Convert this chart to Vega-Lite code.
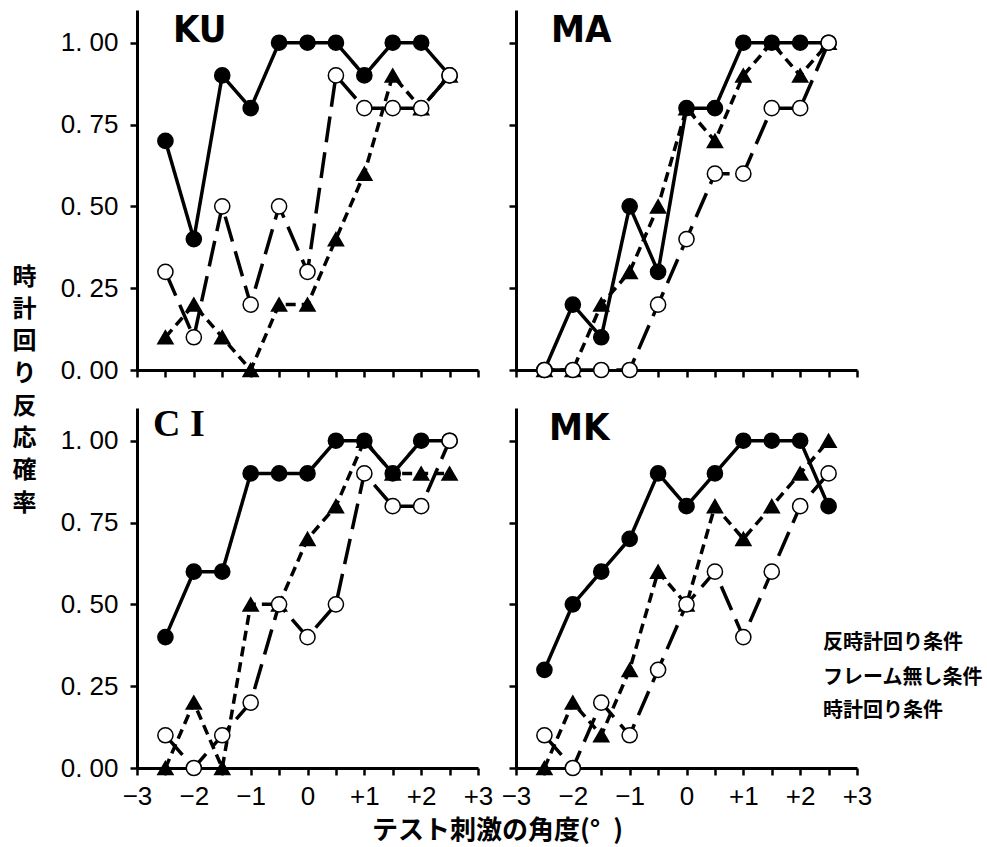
{
  "$schema": "https://vega.github.io/schema/vega-lite/v6.json",
  "autosize": {"type": "pad"},
  "padding": {"left": 12, "top": 10, "right": 5, "bottom": 2},
  "background": "white",
  "bounds": "flush",
  "spacing": 38,
  "columns": 2,
  "config": {
    "view": {"stroke": null},
    "axis": {"domainColor": "black", "domainWidth": 3, "tickColor": "black", "tickWidth": 2.5, "tickSize": 7, "grid": false, "labelColor": "black", "labelFont": "Liberation Sans", "labelFontSize": 26, "titleColor": "black"},
    "title": {"color": "black", "anchor": "start", "frame": "group"}
  },
  "data": {"values": [
    {"s":"KU","cond":"反時計回り条件","a":-2.5,"p":0.7},{"s":"KU","cond":"反時計回り条件","a":-2,"p":0.4},{"s":"KU","cond":"反時計回り条件","a":-1.5,"p":0.9},{"s":"KU","cond":"反時計回り条件","a":-1,"p":0.8},{"s":"KU","cond":"反時計回り条件","a":-0.5,"p":1},{"s":"KU","cond":"反時計回り条件","a":0,"p":1},{"s":"KU","cond":"反時計回り条件","a":0.5,"p":1},{"s":"KU","cond":"反時計回り条件","a":1,"p":0.9},{"s":"KU","cond":"反時計回り条件","a":1.5,"p":1},{"s":"KU","cond":"反時計回り条件","a":2,"p":1},{"s":"KU","cond":"反時計回り条件","a":2.5,"p":0.9},
    {"s":"KU","cond":"フレーム無し条件","a":-2.5,"p":0.1},{"s":"KU","cond":"フレーム無し条件","a":-2,"p":0.2},{"s":"KU","cond":"フレーム無し条件","a":-1.5,"p":0.1},{"s":"KU","cond":"フレーム無し条件","a":-1,"p":0},{"s":"KU","cond":"フレーム無し条件","a":-0.5,"p":0.2},{"s":"KU","cond":"フレーム無し条件","a":0,"p":0.2},{"s":"KU","cond":"フレーム無し条件","a":0.5,"p":0.4},{"s":"KU","cond":"フレーム無し条件","a":1,"p":0.6},{"s":"KU","cond":"フレーム無し条件","a":1.5,"p":0.9},{"s":"KU","cond":"フレーム無し条件","a":2,"p":0.8},{"s":"KU","cond":"フレーム無し条件","a":2.5,"p":0.9},
    {"s":"KU","cond":"時計回り条件","a":-2.5,"p":0.3},{"s":"KU","cond":"時計回り条件","a":-2,"p":0.1},{"s":"KU","cond":"時計回り条件","a":-1.5,"p":0.5},{"s":"KU","cond":"時計回り条件","a":-1,"p":0.2},{"s":"KU","cond":"時計回り条件","a":-0.5,"p":0.5},{"s":"KU","cond":"時計回り条件","a":0,"p":0.3},{"s":"KU","cond":"時計回り条件","a":0.5,"p":0.9},{"s":"KU","cond":"時計回り条件","a":1,"p":0.8},{"s":"KU","cond":"時計回り条件","a":1.5,"p":0.8},{"s":"KU","cond":"時計回り条件","a":2,"p":0.8},{"s":"KU","cond":"時計回り条件","a":2.5,"p":0.9},
    {"s":"MA","cond":"反時計回り条件","a":-2.5,"p":0},{"s":"MA","cond":"反時計回り条件","a":-2,"p":0.2},{"s":"MA","cond":"反時計回り条件","a":-1.5,"p":0.1},{"s":"MA","cond":"反時計回り条件","a":-1,"p":0.5},{"s":"MA","cond":"反時計回り条件","a":-0.5,"p":0.3},{"s":"MA","cond":"反時計回り条件","a":0,"p":0.8},{"s":"MA","cond":"反時計回り条件","a":0.5,"p":0.8},{"s":"MA","cond":"反時計回り条件","a":1,"p":1},{"s":"MA","cond":"反時計回り条件","a":1.5,"p":1},{"s":"MA","cond":"反時計回り条件","a":2,"p":1},{"s":"MA","cond":"反時計回り条件","a":2.5,"p":1},
    {"s":"MA","cond":"フレーム無し条件","a":-2.5,"p":0},{"s":"MA","cond":"フレーム無し条件","a":-2,"p":0},{"s":"MA","cond":"フレーム無し条件","a":-1.5,"p":0.2},{"s":"MA","cond":"フレーム無し条件","a":-1,"p":0.3},{"s":"MA","cond":"フレーム無し条件","a":-0.5,"p":0.5},{"s":"MA","cond":"フレーム無し条件","a":0,"p":0.8},{"s":"MA","cond":"フレーム無し条件","a":0.5,"p":0.7},{"s":"MA","cond":"フレーム無し条件","a":1,"p":0.9},{"s":"MA","cond":"フレーム無し条件","a":1.5,"p":1},{"s":"MA","cond":"フレーム無し条件","a":2,"p":0.9},{"s":"MA","cond":"フレーム無し条件","a":2.5,"p":1},
    {"s":"MA","cond":"時計回り条件","a":-2.5,"p":0},{"s":"MA","cond":"時計回り条件","a":-2,"p":0},{"s":"MA","cond":"時計回り条件","a":-1.5,"p":0},{"s":"MA","cond":"時計回り条件","a":-1,"p":0},{"s":"MA","cond":"時計回り条件","a":-0.5,"p":0.2},{"s":"MA","cond":"時計回り条件","a":0,"p":0.4},{"s":"MA","cond":"時計回り条件","a":0.5,"p":0.6},{"s":"MA","cond":"時計回り条件","a":1,"p":0.6},{"s":"MA","cond":"時計回り条件","a":1.5,"p":0.8},{"s":"MA","cond":"時計回り条件","a":2,"p":0.8},{"s":"MA","cond":"時計回り条件","a":2.5,"p":1},
    {"s":"CI","cond":"反時計回り条件","a":-2.5,"p":0.4},{"s":"CI","cond":"反時計回り条件","a":-2,"p":0.6},{"s":"CI","cond":"反時計回り条件","a":-1.5,"p":0.6},{"s":"CI","cond":"反時計回り条件","a":-1,"p":0.9},{"s":"CI","cond":"反時計回り条件","a":-0.5,"p":0.9},{"s":"CI","cond":"反時計回り条件","a":0,"p":0.9},{"s":"CI","cond":"反時計回り条件","a":0.5,"p":1},{"s":"CI","cond":"反時計回り条件","a":1,"p":1},{"s":"CI","cond":"反時計回り条件","a":1.5,"p":0.9},{"s":"CI","cond":"反時計回り条件","a":2,"p":1},{"s":"CI","cond":"反時計回り条件","a":2.5,"p":1},
    {"s":"CI","cond":"フレーム無し条件","a":-2.5,"p":0},{"s":"CI","cond":"フレーム無し条件","a":-2,"p":0.2},{"s":"CI","cond":"フレーム無し条件","a":-1.5,"p":0},{"s":"CI","cond":"フレーム無し条件","a":-1,"p":0.5},{"s":"CI","cond":"フレーム無し条件","a":-0.5,"p":0.5},{"s":"CI","cond":"フレーム無し条件","a":0,"p":0.7},{"s":"CI","cond":"フレーム無し条件","a":0.5,"p":0.8},{"s":"CI","cond":"フレーム無し条件","a":1,"p":1},{"s":"CI","cond":"フレーム無し条件","a":1.5,"p":0.9},{"s":"CI","cond":"フレーム無し条件","a":2,"p":0.9},{"s":"CI","cond":"フレーム無し条件","a":2.5,"p":0.9},
    {"s":"CI","cond":"時計回り条件","a":-2.5,"p":0.1},{"s":"CI","cond":"時計回り条件","a":-2,"p":0},{"s":"CI","cond":"時計回り条件","a":-1.5,"p":0.1},{"s":"CI","cond":"時計回り条件","a":-1,"p":0.2},{"s":"CI","cond":"時計回り条件","a":-0.5,"p":0.5},{"s":"CI","cond":"時計回り条件","a":0,"p":0.4},{"s":"CI","cond":"時計回り条件","a":0.5,"p":0.5},{"s":"CI","cond":"時計回り条件","a":1,"p":0.9},{"s":"CI","cond":"時計回り条件","a":1.5,"p":0.8},{"s":"CI","cond":"時計回り条件","a":2,"p":0.8},{"s":"CI","cond":"時計回り条件","a":2.5,"p":1},
    {"s":"MK","cond":"反時計回り条件","a":-2.5,"p":0.3},{"s":"MK","cond":"反時計回り条件","a":-2,"p":0.5},{"s":"MK","cond":"反時計回り条件","a":-1.5,"p":0.6},{"s":"MK","cond":"反時計回り条件","a":-1,"p":0.7},{"s":"MK","cond":"反時計回り条件","a":-0.5,"p":0.9},{"s":"MK","cond":"反時計回り条件","a":0,"p":0.8},{"s":"MK","cond":"反時計回り条件","a":0.5,"p":0.9},{"s":"MK","cond":"反時計回り条件","a":1,"p":1},{"s":"MK","cond":"反時計回り条件","a":1.5,"p":1},{"s":"MK","cond":"反時計回り条件","a":2,"p":1},{"s":"MK","cond":"反時計回り条件","a":2.5,"p":0.8},
    {"s":"MK","cond":"フレーム無し条件","a":-2.5,"p":0},{"s":"MK","cond":"フレーム無し条件","a":-2,"p":0.2},{"s":"MK","cond":"フレーム無し条件","a":-1.5,"p":0.1},{"s":"MK","cond":"フレーム無し条件","a":-1,"p":0.3},{"s":"MK","cond":"フレーム無し条件","a":-0.5,"p":0.6},{"s":"MK","cond":"フレーム無し条件","a":0,"p":0.5},{"s":"MK","cond":"フレーム無し条件","a":0.5,"p":0.8},{"s":"MK","cond":"フレーム無し条件","a":1,"p":0.7},{"s":"MK","cond":"フレーム無し条件","a":1.5,"p":0.8},{"s":"MK","cond":"フレーム無し条件","a":2,"p":0.9},{"s":"MK","cond":"フレーム無し条件","a":2.5,"p":1},
    {"s":"MK","cond":"時計回り条件","a":-2.5,"p":0.1},{"s":"MK","cond":"時計回り条件","a":-2,"p":0},{"s":"MK","cond":"時計回り条件","a":-1.5,"p":0.2},{"s":"MK","cond":"時計回り条件","a":-1,"p":0.1},{"s":"MK","cond":"時計回り条件","a":-0.5,"p":0.3},{"s":"MK","cond":"時計回り条件","a":0,"p":0.5},{"s":"MK","cond":"時計回り条件","a":0.5,"p":0.6},{"s":"MK","cond":"時計回り条件","a":1,"p":0.4},{"s":"MK","cond":"時計回り条件","a":1.5,"p":0.6},{"s":"MK","cond":"時計回り条件","a":2,"p":0.8},{"s":"MK","cond":"時計回り条件","a":2.5,"p":0.9}
  ]},
  "resolve": {"scale": {"shape": "independent"}, "legend": {"shape": "independent"}},
  "concat": [
    {
      "width": 341, "height": 360,
      "title": {"text": "KU", "offset": -40, "dx": 36, "font": "Liberation Sans Narrow, DejaVu Sans Condensed, Liberation Sans", "fontSize": 38, "fontWeight": "bold"},
      "transform": [{"filter": "datum.s === 'KU'"}],
      "encoding": {
        "x": {"field": "a", "type": "quantitative", "scale": {"domain": [-3, 3], "nice": false}, "axis": {"values": [-3,-2.5,-2,-1.5,-1,-0.5,0,0.5,1,1.5,2,2.5,3], "labels": false, "title": null}},
        "y": {"field": "p", "type": "quantitative", "scale": {"domain": [0, 1.1], "nice": false}, "axis": {"values": [0,0.25,0.5,0.75,1], "labelExpr": "replace(format(datum.value,'.2f'),'.','. ')", "labelPadding": 12,
          "title": ["時","計","回","り","反","応","確","率"], "titleAngle": 0, "titleX": -113, "titleY": 267, "titleAlign": "center", "titleBaseline": "middle", "titleFont": "Noto Sans CJK JP", "titleFontSize": 24, "titleFontWeight": "bold", "titleLineHeight": 32.3}}
      },
      "layer": [
        {"mark": {"type": "line", "color": "black", "strokeWidth": 3.5}, "encoding": {"detail": {"field": "cond"}, "strokeDash": {"condition": [{"test": "datum.cond === 'フレーム無し条件'", "value": [10, 6]}, {"test": "datum.cond === '時計回り条件'", "value": [26, 10]}], "value": [1, 0]}}},
        {"mark": {"type": "point", "filled": true, "size": 230, "stroke": "black", "strokeWidth": 1.5, "opacity": 1}, "encoding": {
          "shape": {"field": "cond", "scale": {"domain": ["反時計回り条件","フレーム無し条件","時計回り条件"], "range": ["circle","triangle-up","circle"]}, "legend": null},
          "fill": {"condition": {"test": "datum.cond === '時計回り条件'", "value": "white"}, "value": "black"}}}
      ]
    },
    {
      "width": 341, "height": 360,
      "title": {"text": "MA", "offset": -40, "dx": 35, "font": "Liberation Sans Narrow, DejaVu Sans Condensed, Liberation Sans", "fontSize": 38, "fontWeight": "bold"},
      "transform": [{"filter": "datum.s === 'MA'"}],
      "encoding": {
        "x": {"field": "a", "type": "quantitative", "scale": {"domain": [-3, 3], "nice": false}, "axis": {"values": [-3,-2.5,-2,-1.5,-1,-0.5,0,0.5,1,1.5,2,2.5,3], "labels": false, "title": null}},
        "y": {"field": "p", "type": "quantitative", "scale": {"domain": [0, 1.1], "nice": false}, "axis": {"values": [0,0.25,0.5,0.75,1], "labels": false, "title": null}}
      },
      "layer": [
        {"mark": {"type": "line", "color": "black", "strokeWidth": 3.5}, "encoding": {"detail": {"field": "cond"}, "strokeDash": {"condition": [{"test": "datum.cond === 'フレーム無し条件'", "value": [10, 6]}, {"test": "datum.cond === '時計回り条件'", "value": [26, 10]}], "value": [1, 0]}}},
        {"mark": {"type": "point", "filled": true, "size": 230, "stroke": "black", "strokeWidth": 1.5, "opacity": 1}, "encoding": {
          "shape": {"field": "cond", "scale": {"domain": ["反時計回り条件","フレーム無し条件","時計回り条件"], "range": ["circle","triangle-up","circle"]}, "legend": null},
          "fill": {"condition": {"test": "datum.cond === '時計回り条件'", "value": "white"}, "value": "black"}}}
      ]
    },
    {
      "width": 341, "height": 360,
      "title": {"text": "C I", "offset": -36, "dx": 16, "font": "Liberation Serif, DejaVu Serif", "fontSize": 38, "fontWeight": "bold"},
      "transform": [{"filter": "datum.s === 'CI'"}],
      "encoding": {
        "x": {"field": "a", "type": "quantitative", "scale": {"domain": [-3, 3], "nice": false}, "axis": {"values": [-3,-2.5,-2,-1.5,-1,-0.5,0,0.5,1,1.5,2,2.5,3], "labelExpr": "datum.value != floor(datum.value) ? '' : datum.value > 0 ? '+' + datum.value : datum.value < 0 ? '−' + (-datum.value) : '0'", "labelOverlap": false, "labelFlush": false, "labelPadding": 8,
          "title": "テスト刺激の角度(°\u2002)", "titleX": 360, "titleY": 62, "titleAlign": "center", "titleBaseline": "middle", "titleFont": "Noto Sans CJK JP", "titleFontSize": 26, "titleFontWeight": "bold"}},
        "y": {"field": "p", "type": "quantitative", "scale": {"domain": [0, 1.1], "nice": false}, "axis": {"values": [0,0.25,0.5,0.75,1], "labelExpr": "replace(format(datum.value,'.2f'),'.','. ')", "labelPadding": 12, "title": null}}
      },
      "layer": [
        {"mark": {"type": "line", "color": "black", "strokeWidth": 3.5}, "encoding": {"detail": {"field": "cond"}, "strokeDash": {"condition": [{"test": "datum.cond === 'フレーム無し条件'", "value": [10, 6]}, {"test": "datum.cond === '時計回り条件'", "value": [26, 10]}], "value": [1, 0]}}},
        {"mark": {"type": "point", "filled": true, "size": 230, "stroke": "black", "strokeWidth": 1.5, "opacity": 1}, "encoding": {
          "shape": {"field": "cond", "scale": {"domain": ["反時計回り条件","フレーム無し条件","時計回り条件"], "range": ["circle","triangle-up","circle"]}, "legend": null},
          "fill": {"condition": {"test": "datum.cond === '時計回り条件'", "value": "white"}, "value": "black"}}}
      ]
    },
    {
      "width": 341, "height": 360,
      "title": {"text": "MK", "offset": -40, "dx": 33, "font": "Liberation Sans Narrow, DejaVu Sans Condensed, Liberation Sans", "fontSize": 38, "fontWeight": "bold"},
      "transform": [{"filter": "datum.s === 'MK'"}],
      "encoding": {
        "x": {"field": "a", "type": "quantitative", "scale": {"domain": [-3, 3], "nice": false}, "axis": {"values": [-3,-2.5,-2,-1.5,-1,-0.5,0,0.5,1,1.5,2,2.5,3], "labelExpr": "datum.value != floor(datum.value) ? '' : datum.value > 0 ? '+' + datum.value : datum.value < 0 ? '−' + (-datum.value) : '0'", "labelOverlap": false, "labelFlush": false, "labelPadding": 8, "title": null}},
        "y": {"field": "p", "type": "quantitative", "scale": {"domain": [0, 1.1], "nice": false}, "axis": {"values": [0,0.25,0.5,0.75,1], "labels": false, "title": null}}
      },
      "resolve": {"scale": {"shape": "independent"}, "legend": {"shape": "independent"}},
      "layer": [
        {"mark": {"type": "line", "color": "black", "strokeWidth": 3.5}, "encoding": {"detail": {"field": "cond"}, "strokeDash": {"condition": [{"test": "datum.cond === 'フレーム無し条件'", "value": [10, 6]}, {"test": "datum.cond === '時計回り条件'", "value": [26, 10]}], "value": [1, 0]}}},
        {"mark": {"type": "point", "filled": true, "size": 230, "stroke": "black", "strokeWidth": 1.5, "opacity": 1}, "encoding": {
          "shape": {"field": "cond", "scale": {"domain": ["反時計回り条件","フレーム無し条件","時計回り条件"], "range": ["circle","triangle-up","circle"]}, "legend": null},
          "fill": {"condition": {"test": "datum.cond === '時計回り条件'", "value": "white"}, "value": "black"}}},
        {"mark": {"type": "point", "filled": true, "fill": "white", "size": 0, "stroke": "black"}, "encoding": {
          "shape": {"field": "cond", "scale": {"domain": ["反時計回り条件","フレーム無し条件","時計回り条件"], "range": [
              "M-1,0L1,0M-0.33,0A0.33,0.33 0 1,0 0.33,0A0.33,0.33 0 1,0 -0.33,0ZM-0.2,0A0.2,0.2 0 1,0 0.2,0A0.2,0.2 0 1,0 -0.2,0ZM-0.08,0A0.08,0.08 0 1,0 0.08,0A0.08,0.08 0 1,0 -0.08,0Z",
              "M-1,0L-0.5,0M0.6,0L0.8,0M-0.33,0.25L0.33,0.25L0,-0.33ZM-0.18,0.165L0.18,0.165L0,-0.15ZM-0.066,0.095L0.066,0.095L0,-0.02Z",
              "M-1,0L-0.35,0M0.35,0L1,0M-0.33,0A0.33,0.33 0 1,0 0.33,0A0.33,0.33 0 1,0 -0.33,0Z"]},
            "legend": {"orient": "none", "legendX": 258, "legendY": 213, "title": null, "symbolSize": 1600, "symbolStrokeWidth": 3, "symbolStrokeColor": "black", "symbolFillColor": "white", "symbolOpacity": 1, "labelFont": "Noto Sans CJK JP", "labelFontSize": 20, "labelFontWeight": "bold", "labelColor": "black", "labelOffset": 6, "rowPadding": -3}}}}
      ]
    }
  ]
}
